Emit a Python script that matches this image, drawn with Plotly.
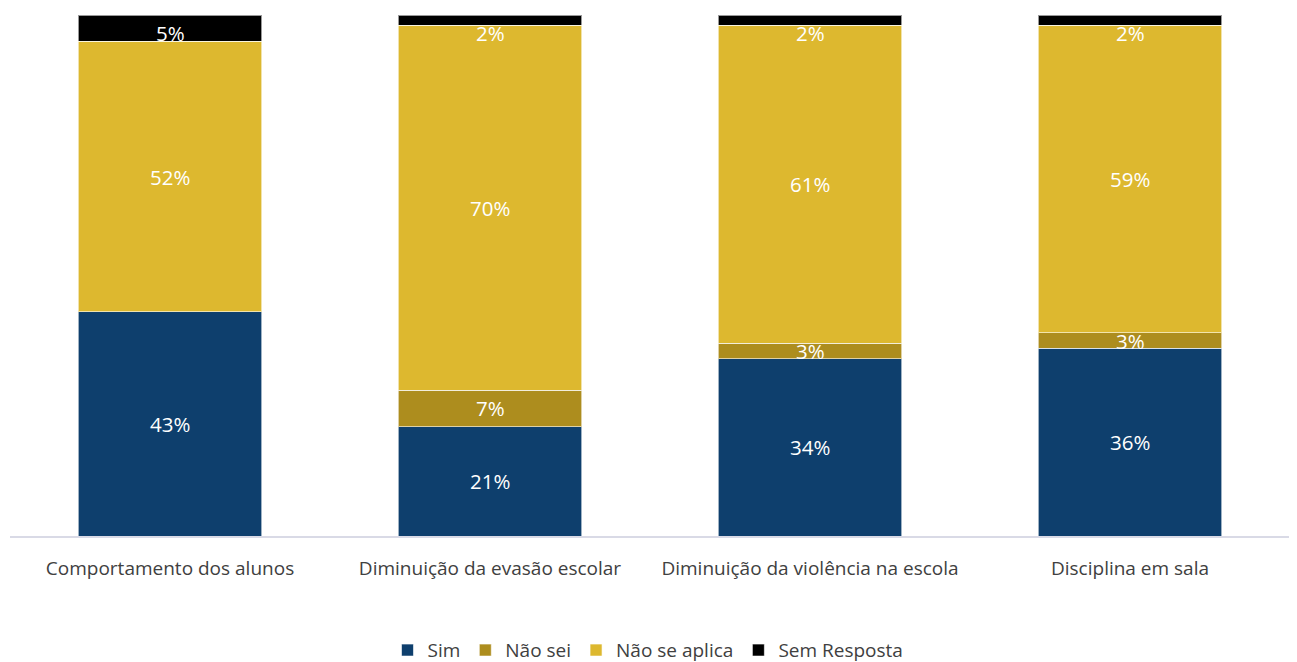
import plotly.graph_objects as go

categories = ["Comportamento dos alunos", "Diminuição da evasão escolar",
              "Diminuição da violência na escola", "Disciplina em sala"]
sim = [43, 21, 34, 36]
nao_sei = [0, 7, 3, 3]
nao_se_aplica = [52, 70, 61, 59]
sem_resposta = [5, 2, 2, 2]

series = [
    ("Sim", sim, "#0E3F6D"),
    ("Não sei", nao_sei, "#AD8D1E"),
    ("Não se aplica", nao_se_aplica, "#DDB82F"),
    ("Sem Resposta", sem_resposta, "#000000"),
]

FONT = "Open Sans, Segoe UI, sans-serif"
fig = go.Figure()
for name, vals, color in series:
    fig.add_trace(go.Bar(
        x=categories, y=vals, name=name,
        marker=dict(color=color, line=dict(color="rgba(255,255,255,0.6)", width=1)),
        width=0.572,
        hoverinfo="skip",
    ))

annotations = []
for i, cat in enumerate(categories):
    base = 0
    for k, (name, vals, color) in enumerate(series):
        v = vals[i]
        if v > 0:
            if k == len(series) - 1:
                annotations.append(dict(x=cat, y=base + v, text=f"{v}%", showarrow=False,
                                        yanchor="middle", yshift=-18,
                                        font=dict(color="white", size=20.5, family=FONT)))
            else:
                annotations.append(dict(x=cat, y=base + v / 2, text=f"{v}%", showarrow=False,
                                        yanchor="middle",
                                        font=dict(color="white", size=20.5, family=FONT)))
        base += v

# page body has an 8px default margin; the figure is sized to fit the window
fig.update_layout(
    barmode="stack",
    width=1289, height=654,
    margin=dict(l=2, r=7, t=7, b=126, autoexpand=False),
    paper_bgcolor="white", plot_bgcolor="white",
    font=dict(family=FONT, color="#404040", size=19),
    xaxis=dict(showline=True, linecolor="#D9DAE6", linewidth=1.5, ticks="",
               automargin=False, ticklabelstandoff=14,
               tickfont=dict(size=19, color="#404040", family=FONT)),
    yaxis=dict(range=[0, 100], visible=False, showgrid=False),
    legend=dict(orientation="h", x=0.4965, xanchor="center", xref="container",
                y=0.018, yanchor="middle", yref="container",
                font=dict(size=19, color="#404040", family=FONT), traceorder="normal",
                itemwidth=30),
    annotations=annotations,
)
fig.write_html("out.html")
